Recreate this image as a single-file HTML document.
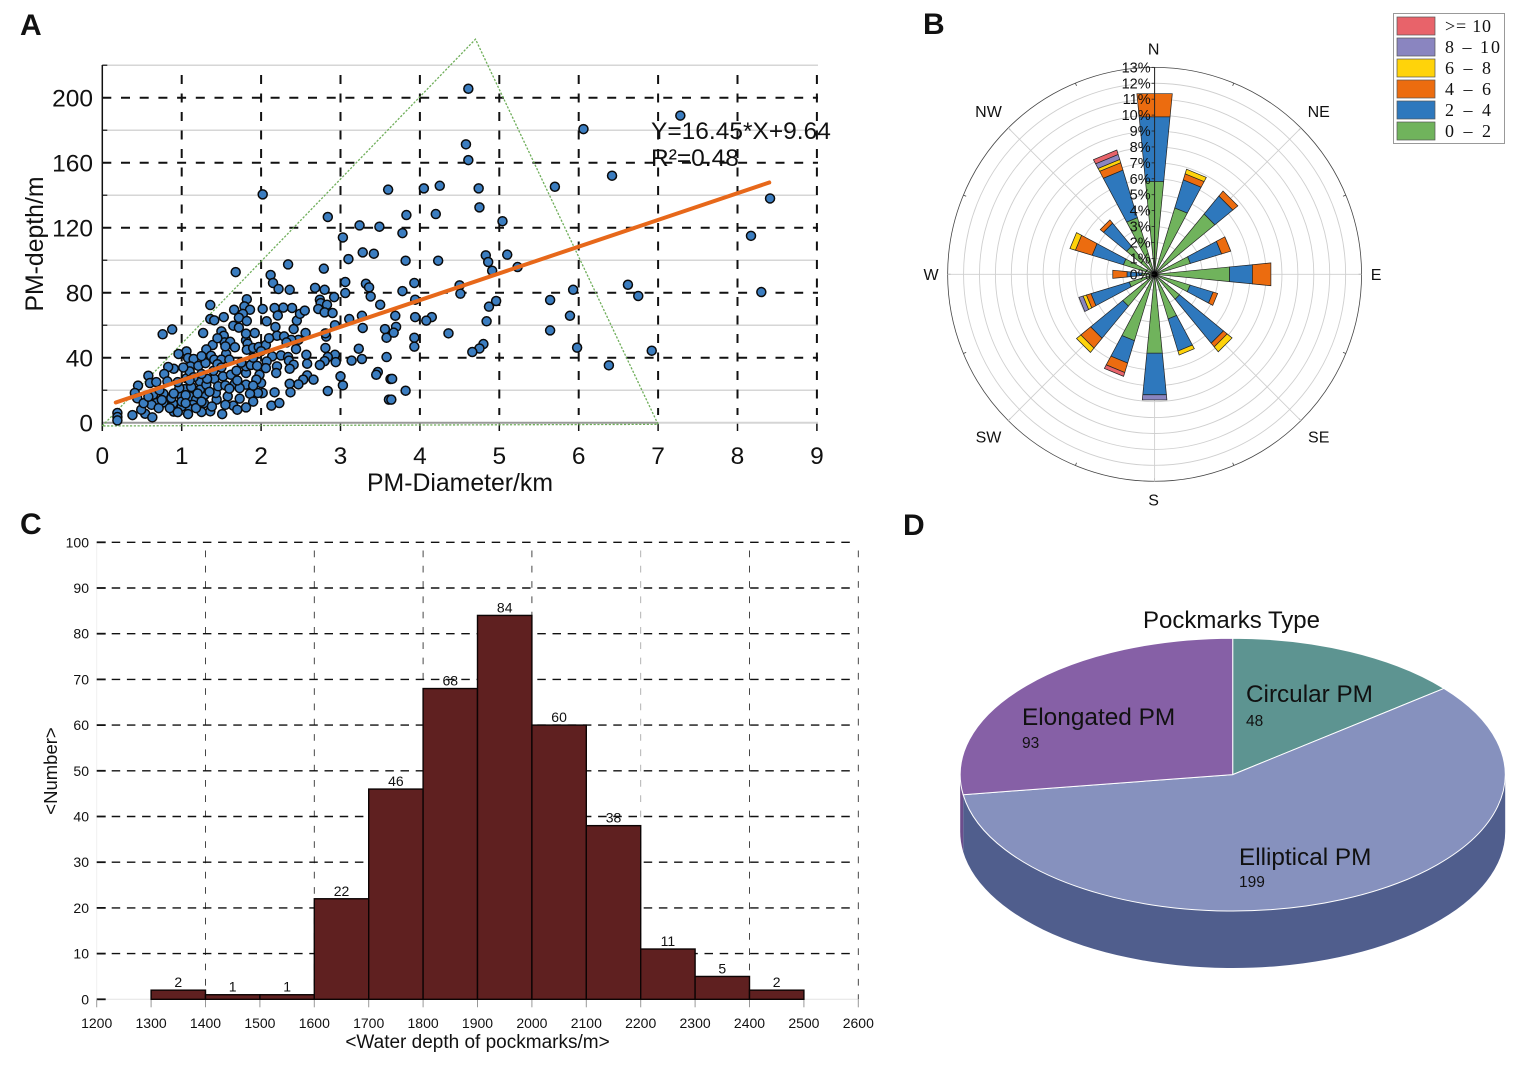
<!DOCTYPE html>
<html lang="en">
<head>
<meta charset="utf-8">
<title>Pockmark statistics</title>
<style>
html,body{margin:0;padding:0;background:#fff}
svg{display:block}
text{font-family:"Liberation Sans",Arial,sans-serif;fill:#111}
</style>
</head>
<body>
<svg id="fig" xmlns="http://www.w3.org/2000/svg" width="1520" height="1067" viewBox="0 0 1520 1067">
  <rect width="1520" height="1067" fill="#fff"/>
  <text x="20" y="35" font-size="30" font-weight="bold">A</text>
  <text x="923" y="34" font-size="30" font-weight="bold">B</text>
  <text x="20" y="534" font-size="30" font-weight="bold">C</text>
  <text x="903" y="535" font-size="30" font-weight="bold">D</text>

  <g id="chartA"></g>
  <text x="460" y="491" font-size="24.8" text-anchor="middle">PM-Diameter/km</text>
  <text transform="translate(43,244) rotate(-90)" font-size="24.8" text-anchor="middle">PM-depth/m</text>
  <text x="651" y="139" font-size="24.5">Y=16.45*X+9.64</text>
  <text x="651" y="166" font-size="24.5">R²=0.48</text>

  <g id="chartB"></g>
  <g>
    <rect x="1393.5" y="13.5" width="111" height="130" fill="#fff" stroke="#999" stroke-width="1"/>
    <g><rect x="1397" y="17" width="38" height="18" fill="#e8636a" stroke="#555" stroke-width=".7"/><text x="1445" y="32" font-size="18" style="font-family:'Liberation Serif',serif;white-space:pre" fill="#222" textLength="46">&gt;= 10</text></g>
    <g><rect x="1397" y="38" width="38" height="18" fill="#8a85c0" stroke="#555" stroke-width=".7"/><text x="1445" y="53" font-size="18" style="font-family:'Liberation Serif',serif;white-space:pre" fill="#222" textLength="55">8 – 10</text></g>
    <g><rect x="1397" y="59" width="38" height="18" fill="#ffd30a" stroke="#555" stroke-width=".7"/><text x="1445" y="74" font-size="18" style="font-family:'Liberation Serif',serif;white-space:pre" fill="#222" textLength="46">6 – 8</text></g>
    <g><rect x="1397" y="80" width="38" height="18" fill="#ec6c0f" stroke="#555" stroke-width=".7"/><text x="1445" y="95" font-size="18" style="font-family:'Liberation Serif',serif;white-space:pre" fill="#222" textLength="46">4 – 6</text></g>
    <g><rect x="1397" y="101" width="38" height="18" fill="#2e78bd" stroke="#555" stroke-width=".7"/><text x="1445" y="116" font-size="18" style="font-family:'Liberation Serif',serif;white-space:pre" fill="#222" textLength="46">2 – 4</text></g>
    <g><rect x="1397" y="122" width="38" height="18" fill="#70b35c" stroke="#555" stroke-width=".7"/><text x="1445" y="137" font-size="18" style="font-family:'Liberation Serif',serif;white-space:pre" fill="#222" textLength="46">0 – 2</text></g>
  </g>

  <g id="chartC"></g>
  <text x="477.5" y="1048" font-size="19" text-anchor="middle">&lt;Water depth of pockmarks/m&gt;</text>
  <text transform="translate(57,771) rotate(-90)" font-size="18.5" text-anchor="middle">&lt;Number&gt;</text>

  <g id="chartD"></g>
  <text x="1143" y="628" font-size="24" textLength="177" lengthAdjust="spacingAndGlyphs">Pockmarks Type</text>
  <text x="1022" y="725" font-size="24.4" fill="#1a1030">Elongated PM</text>
  <text x="1022" y="748" font-size="15.5" fill="#2a1c3a">93</text>
  <text x="1246" y="702" font-size="24.3" fill="#0c1a1a">Circular PM</text>
  <text x="1246" y="726" font-size="15.5" fill="#0c1a1a">48</text>
  <text x="1239" y="865" font-size="24.3" fill="#0c1030">Elliptical PM</text>
  <text x="1239" y="887" font-size="15.5" fill="#0c1030">199</text>
</svg>
<script>
/* ---------- Panel A data ---------- */
const diameters = [
1.68,2.34,1.36,1.36,1.41,1.53,1.82,1.79,1.66,1.86,
1.77,1.72,1.82,1.65,1.72,1.27,0.76,0.88,1.5,1.53,
1.54,1.61,1.67,1.39,1.31,1.06,0.96,1.08,1.15,1.11,
1.21,1.37,1.41,1.56,1.5,1.6,1.3,0.9,0.83,0.78,
0.58,0.6,0.45,0.41,0.44,0.82,1.06,1.1,1.23,1.41,
1.52,1.62,1.69,1.81,1.81,1.87,1.81,1.83,1.92,1.81,
1.82,1.9,1.97,2.06,2.14,2.25,2.07,2.06,2.2,2.19,
2.34,2.35,2.41,2.36,2.57,2.58,2.44,2.47,2.56,2.41,
2.45,2.49,2.55,2.39,2.28,2.17,2.02,2.21,2.07,2.18,
2.2,2.29,2.38,2.32,2.12,2.15,2.22,2.36,2.68,2.8,
2.79,2.74,2.75,2.72,2.83,2.8,2.9,2.92,3.06,3.06,
3.1,3.28,3.42,3.32,3.36,3.38,3.5,3.11,3.27,3.28,
3.56,3.58,3.23,3.27,3.14,3.58,3.47,3.45,3.63,3.61,
3,3.03,2.93,2.82,2.81,2.81,2.93,2.84,2.94,2.8,
2.74,2.58,2.53,2.47,2.36,2.66,2.84,2.37,2.17,2.13,
2.23,2.02,2,1.98,1.96,1.94,1.86,1.81,1.9,1.81,
1.73,1.65,1.51,1.58,1.44,1.43,1.46,1.67,1.73,1.28,
1.36,1.25,1.29,1.23,1.31,1.04,1.14,1,1.1,1.18,
1.14,1.08,1.08,1,0.89,0.9,0.87,0.77,0.77,0.64,
0.68,0.62,0.71,0.54,0.63,0.49,0.38,0.19,0.19,0.19,
0.97,2.02,2.84,3.6,4.05,4.25,3.83,4.2,3.24,3.49,
3.78,3.03,3.82,4.23,4.61,7.28,6.06,4.58,4.61,6.42,
4.74,5.7,4.75,8.41,5.04,8.17,4.83,5.1,4.86,4.91,
5.23,4.5,4.51,5.93,6.62,6.75,8.3,5.64,4.96,4.87,
5.89,4.84,5.64,4.36,5.98,4.8,4.75,4.66,6.92,6.38,
3.78,3.93,3.94,3.69,3.94,4.15,4.08,3.7,3.93,3.93,
3.67,3.65,3.82,3.64,1,1.05,1.12,1.18,1.2,1.25,
1.32,1.35,1.4,1.45,0.95,0.9,0.72,0.68,0.85,0.95,
1.05,1.15,1.02,1.25,1.5,1.55,1.6,1.7,1.75,1.9,
1.95,2,2.1,1.55,1.45,1.25,1.1,0.52,0.58,0.75,
1.38,1.55,1.7,1.9
];
const depths = [
92.7,97.4,72.4,63.8,63,65,76,71.6,69.5,69.5,
67,64.6,62.6,59.7,58.5,55.2,54.4,57.4,56.2,53.5,
49.4,49.8,46.4,47.8,45.1,43.9,42.3,39.8,39.2,34.7,
35,41.2,38.8,42.3,38.8,38.8,36.7,33.2,34.3,30,
28.9,24.4,22.8,18.3,15,25.4,27.3,31.6,25.4,27,
28.5,29.5,32,30.6,34.7,35.5,50.7,48.6,55.2,54.8,
44.9,46,46.6,47.8,40.8,41.4,37.7,33.6,34.7,30.6,
40.4,38.2,35.7,33.2,41.8,36.3,45.3,51,55.2,57.6,
62.8,67,69,70.6,70.8,70.6,70,66,62.4,58.9,
53.5,53.1,51,49.4,90.9,86,82.3,81.8,83,81.8,
94.8,75.7,73.6,70,72.6,67.9,67.5,77.3,86.6,79.8,
100.7,104.8,104,85.5,83.3,77.7,72.6,63.8,65.8,58.3,
57.6,52.3,45.5,39.2,38.2,40.4,31.2,29.5,26.9,14.2,
28.5,23,60,53,55,46,41.8,40.4,37.3,37.9,
35.5,29.1,26.5,23.6,24,26.5,19.5,18.7,18.7,10.5,
12.1,18.3,24.4,29.5,18.3,26.5,17.8,23.4,22.8,9.4,
14.8,10.5,5.3,16.2,14.2,18.3,22.4,24,21.3,12.1,
7,6.6,17.2,20.3,23.4,20.7,20.3,16.2,16.2,14.2,
11,9,5.3,10,11.7,6.8,15.2,12.5,17.8,17.2,
12.1,11,9,5.5,3.3,8,4.7,6,3.5,1.4,
21.3,140.5,126.6,143.4,144.2,145.8,127.8,128.4,121.4,120.6,
116.7,114,99.7,99.7,205.5,189,180.7,171.3,161.6,152,
144.2,145.2,132.5,138,124,115,103,103.4,98.9,93.5,
95.8,84.5,79.4,81.8,84.9,78,80.4,75.5,74.9,71.4,
65.8,62.4,56.8,55,46.2,48.4,45.7,43.5,44.3,35.3,
81,86,75.7,65.8,65,65,62.8,59,52.3,46.8,
55.4,27,19.7,14.2,13,17,22,9,18,13,
27,19,32,36,25,18,20,25,9,6.5,
12,28,34,30,34,23,21,26,37,40,
35,44,52,47,52,41,26,12,16,14,
10,11,8,13
];
const xTicksA = [0,1,2,3,4,5,6,7,8,9];
const yMajorTicksA = [0,40,80,120,160,200];
const yMinorTicksA = [20,60,100,140,180,220];
const trendSlope = 16.45;
const trendIntercept = 9.64;
const trendRange = [0.17,8.4];
const triangleX = [0,4.7,7];
const triangleY = [-2,236,-1];

/* ---------- Panel B data ---------- */
const directions = ['N','NNE','NE','ENE','E','ESE','SE','SSE','S','SSW','SW','WSW','W','WNW','NW','NNW'];
const speed0to2 = [5.86,4.36,4.9,2.35,4.73,2.33,2.03,2.93,4.98,4.36,2.59,1.67,0.8,2.05,2.28,3.72];
const speed2to4 = [4.08,1.84,1.46,2.05,1.44,1.51,3.57,2.11,2.62,1.47,2.61,2.51,0.94,2.05,1.88,3.12];
const speed4to6 = [1.46,0.4,0.41,0.6,1.17,0.3,0.3,0,0,0.62,0.8,0.3,0.9,1.1,0.26,0.49];
const speed6to8 = [0,0.3,0,0,0,0,0.4,0.26,0,0,0.35,0.22,0,0.36,0,0.21];
const speed8to10 = [0,0,0,0,0,0,0,0,0.33,0,0,0.27,0,0,0,0.33];
const speed10plus = [0,0,0,0,0,0,0,0,0,0.25,0,0,0,0,0,0.29];
const compassLabels = ['N','NE','E','SE','S','SW','W','NW'];
const percentTicks = [0,1,2,3,4,5,6,7,8,9,10,11,12,13];

/* ---------- Panel C data ---------- */
const binStarts = [1300,1400,1500,1600,1700,1800,1900,2000,2100,2200,2300,2400];
const binCounts = [2,1,1,22,46,68,84,60,38,11,5,2];
const xTicksC = [1200,1300,1400,1500,1600,1700,1800,1900,2000,2100,2200,2300,2400,2500,2600];
const yTicksC = [0,10,20,30,40,50,60,70,80,90,100];
const vGridC = [1400,1600,1800,2000,2200,2400,2600];

/* ---------- Panel D data ---------- */
const pieValues = [48,199,93];

const NS = 'http://www.w3.org/2000/svg';
function add(tag, attrs, parent, txt) {
  const e = document.createElementNS(NS, tag);
  for (const k in attrs) e.setAttribute(k, attrs[k]);
  if (txt !== undefined) e.textContent = txt;
  parent.appendChild(e);
  return e;
}

/* ===== Panel A ===== */
(function () {
  const g = document.getElementById('chartA');
  const xA = v => 102.3 + v * 79.4;
  const yA = v => 422.7 - v * 1.625;
  yMinorTicksA.forEach(v => {
    const l = add('line', {x1: xA(0), x2: 818, y1: yA(v), y2: yA(v), stroke: '#c9c9c9', 'stroke-width': 1.2}, g);
    
    
    const t = add('line', {x1: xA(0), x2: xA(0) + 5, y1: yA(v), y2: yA(v), stroke: '#111', 'stroke-width': 1.2}, g);
    
    
  });
  yMajorTicksA.forEach(v => {
    if (v > 0) {
      const l = add('line', {x1: xA(0), x2: 818, y1: yA(v), y2: yA(v), stroke: '#111', 'stroke-width': 2, 'stroke-dasharray': '9 9.7'}, g);
      
      
    }
    const t = add('text', {x: 93, y: yA(v) + 9, 'font-size': 24.5, 'text-anchor': 'end'}, g, String(v));
    
    
  });
  xTicksA.forEach(v => {
    if (v > 0) {
      const l = add('line', {x1: xA(v), x2: xA(v), y1: 75, y2: 415, stroke: '#111', 'stroke-width': 2, 'stroke-dasharray': '9 9.5'}, g);
      
      
    }
    const k = add('line', {x1: xA(v), x2: xA(v), y1: 422, y2: 431, stroke: '#111', 'stroke-width': 1.5}, g);
    
    
    const t = add('text', {x: xA(v), y: 464, 'font-size': 24.5, 'text-anchor': 'middle'}, g, String(v));
    
    
  });
  const base1 = add('line', {x1: xA(0), x2: xA(7), y1: yA(0), y2: yA(0), stroke: '#999', 'stroke-width': 2}, g);
  
  
  const base2 = add('line', {x1: xA(7), x2: 818, y1: yA(0), y2: yA(0), stroke: '#d5d5d5', 'stroke-width': 2}, g);
  
  
  const yAxis = add('line', {x1: xA(0), x2: xA(0), y1: 65, y2: 429, stroke: '#111', 'stroke-width': 1.5}, g);
  
  

  const triPts = triangleX.map((x, i) => xA(x) + ',' + yA(triangleY[i])).join(' ');
  const tri = add('polygon', {points: triPts, fill: 'none', stroke: '#6fae5a', 'stroke-width': 1.3, 'stroke-dasharray': '2.2 1.6'}, g);
  
  

  diameters.forEach((d, i) => {
    const c = add('circle', {cx: xA(d), cy: yA(depths[i]), r: 4.5, fill: '#3b7dc0', stroke: '#0a0a0a', 'stroke-width': 1.5}, g);
    
    
  });
  const x0 = trendRange[0], x1 = trendRange[1];
  const tr = add('line', {x1: xA(x0), y1: yA(trendSlope * x0 + trendIntercept), x2: xA(x1), y2: yA(trendSlope * x1 + trendIntercept), stroke: '#e7681a', 'stroke-width': 4, 'stroke-linecap': 'round'}, g);
  
  
})();

/* ===== Panel B ===== */
(function () {
  const g = document.getElementById('chartB');
  const cx = 1154.6, cy = 274.3, unit = 15.92;
  const rB = v => v * unit;
  const polar = (r, deg) => {
    const a = deg * Math.PI / 180;
    return [cx + r * Math.sin(a), cy - r * Math.cos(a)];
  };
  percentTicks.forEach(v => {
    if (v === 0) return;
    const c = add('circle', {cx: cx, cy: cy, r: rB(v), fill: 'none', stroke: v === 13 ? '#444' : '#cfcfcf', 'stroke-width': v === 13 ? 0.8 : 0.9}, g);
    
    
  });
  directions.forEach((d, i) => {
    const deg = i * 22.5;
    const outer = polar(rB(13), deg);
    const inner = polar(rB(13) - 3, deg);
    const k = add('line', {x1: inner[0], y1: inner[1], x2: outer[0], y2: outer[1], stroke: '#444', 'stroke-width': 0.8}, g);
    
    
  });
  compassLabels.forEach((lab, i) => {
    const deg = i * 45;
    const p = polar(rB(13), deg);
    const s = add('line', {x1: cx, y1: cy, x2: p[0], y2: p[1], stroke: '#cfcfcf', 'stroke-width': 0.9}, g);
    
    
    const a = deg * Math.PI / 180;
    const lx = i % 2 ? 233.5 : 222.5;
    const ly = i % 2 ? 230 : 225.5;
    const t = add('text', {x: cx - 1 + lx * Math.sin(a), y: cy - ly * Math.cos(a) + 5.5, 'font-size': 16, 'text-anchor': 'middle', fill: '#222'}, g, lab);
    
    
  });
  const classes = [
    [speed0to2, '#70b35c'],
    [speed2to4, '#2e78bd'],
    [speed4to6, '#ec6c0f'],
    [speed6to8, '#ffd30a'],
    [speed8to10, '#8a85c0'],
    [speed10plus, '#e8636a']
  ];
  const half = 5.6;
  directions.forEach((d, i) => {
    const deg = i * 22.5;
    let cum = 0;
    classes.forEach(cl => {
      const v = cl[0][i];
      if (v <= 0) return;
      const a = polar(rB(cum), deg - half), b = polar(rB(cum + v), deg - half);
      const c2 = polar(rB(cum + v), deg + half), e = polar(rB(cum), deg + half);
      const p = add('polygon', {points: [a, b, c2, e].map(q => q.join(',')).join(' '), fill: cl[1], stroke: '#222', 'stroke-width': 0.7}, g);
      
      
      cum += v;
    });
  });
  const nAxis = add('line', {x1: cx, y1: cy, x2: cx, y2: cy - rB(13), stroke: '#222', 'stroke-width': 1}, g);
  
  
  const dot = add('circle', {cx: cx, cy: cy, r: 3, fill: '#000'}, g);
  
  
  percentTicks.forEach(v => {
    const k = add('line', {x1: cx - 3, x2: cx, y1: cy - rB(v), y2: cy - rB(v), stroke: '#222', 'stroke-width': 0.8}, g);
    
    
    const t = add('text', {x: cx - 4, y: cy - rB(v) + 5, 'font-size': 14.5, 'text-anchor': 'end', fill: '#1a1a1a'}, g, v + '%');
    
    
  });
})();

/* ===== Panel C ===== */
(function () {
  const g = document.getElementById('chartC');
  const xC = v => 96.7 + (v - 1200) * 0.544;
  const yC = v => 999.3 - v * 4.57;
  const lb = add('line', {x1: xC(1200), x2: xC(2600), y1: yC(0), y2: yC(0), stroke: '#e4e4e4', 'stroke-width': 1}, g);
  
  
  const ll = add('line', {x1: xC(1200), x2: xC(1200), y1: yC(100), y2: yC(0), stroke: '#f0f0f0', 'stroke-width': 1}, g);
  
  
  vGridC.forEach(v => {
    const l = add('line', {x1: xC(v), x2: xC(v), y1: 550.5, y2: yC(0), stroke: v === 2200 ? '#aaa' : '#333', 'stroke-width': 0.9, 'stroke-dasharray': '6.7 8.6'}, g);
    
    
  });
  yTicksC.forEach(v => {
    const k = add('line', {x1: xC(1200), x2: xC(1200) + 9, y1: yC(v), y2: yC(v), stroke: '#111', 'stroke-width': 1.8}, g);
    
    
    if (v > 0) {
      const l = add('line', {x1: xC(1200) + 15, x2: 851, y1: yC(v), y2: yC(v), stroke: '#111', 'stroke-width': 1.4, 'stroke-dasharray': '8.5 6.7'}, g);
      
      
    }
    const t = add('text', {x: 89, y: yC(v) + 5, 'font-size': 14, 'text-anchor': 'end', fill: '#222'}, g, String(v));
    
    
  });
  xTicksC.forEach(v => {
    const k = add('line', {x1: xC(v), x2: xC(v), y1: yC(0), y2: yC(0) + 8, stroke: '#999', 'stroke-width': 1}, g);
    
    
    const t = add('text', {x: xC(v), y: 1028, 'font-size': 14, 'text-anchor': 'middle', fill: '#222'}, g, String(v));
    
    
  });
  binStarts.forEach((s, i) => {
    const n = binCounts[i];
    const r = add('rect', {x: xC(s), y: yC(n), width: xC(s + 100) - xC(s), height: yC(0) - yC(n), fill: '#5f2020', stroke: '#0c0404', 'stroke-width': 1.4}, g);
    
    
    const t = add('text', {x: xC(s + 50), y: yC(n) - 3, 'font-size': 14, 'text-anchor': 'middle', fill: '#222'}, g, String(n));
    
    
  });
})();

/* ===== Panel D ===== */
(function () {
  const g = document.getElementById('chartD');
  const cx = 1232.7, cy = 774.6, rx = 272.5, ry = 136.4, depth = 57;
  const total = pieValues.reduce((a, b) => a + b, 0);
  const pt = (deg, dy) => {
    const a = deg * Math.PI / 180;
    return [cx + rx * Math.sin(a), cy - ry * Math.cos(a) + (dy || 0)];
  };
  const a2 = (pieValues[0] + pieValues[1]) / total * 360;
  /* side walls */
  const r0 = pt(90), r0b = pt(90, depth), sB = pt(a2), sBb = pt(a2, depth);
  const side = add('path', {d: `M${r0[0]},${r0[1]} L${r0b[0]},${r0b[1]} A${rx},${ry} 0 0 1 ${sBb[0]},${sBb[1]} L${sB[0]},${sB[1]} Z`, fill: '#505e8d'}, g);
  
  
  const l0 = pt(270), l0b = pt(270, depth);
  const sideP = add('path', {d: `M${sB[0]},${sB[1]} L${sBb[0]},${sBb[1]} A${rx},${ry} 0 0 1 ${l0b[0]},${l0b[1]} L${l0[0]},${l0[1]} Z`, fill: '#6c4d8c'}, g);
  
  
  /* top slices */
  const cols = ['#5d9491', '#8691be', '#8660a6'];
  const names = ['pie-slice-circular', 'pie-slice-elliptical', 'pie-slice-elongated'];
  let acc = 0;
  pieValues.forEach((v, i) => {
    const start = acc / total * 360, end = (acc + v) / total * 360;
    const s = pt(start), e = pt(end);
    const large = end - start > 180 ? 1 : 0;
    const p = add('path', {d: `M${cx},${cy} L${s[0]},${s[1]} A${rx},${ry} 0 ${large} 1 ${e[0]},${e[1]} Z`, fill: cols[i], stroke: '#fff', 'stroke-width': 1}, g);
    
    
    acc += v;
  });
})();
</script>
</body>
</html>
